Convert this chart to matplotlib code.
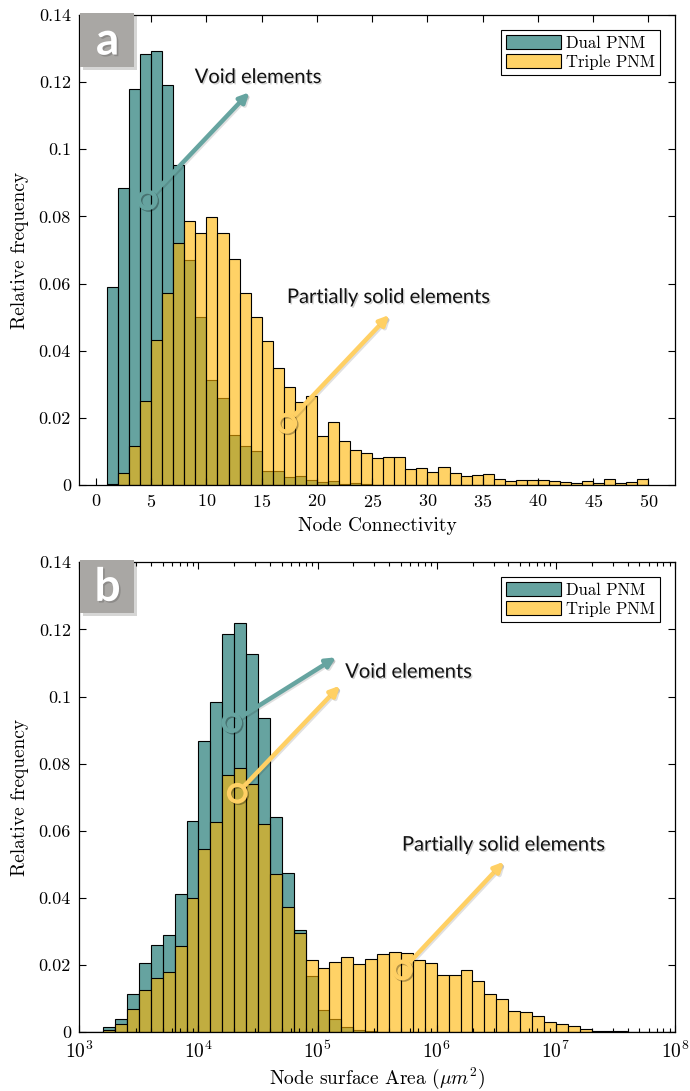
import numpy as np
import matplotlib
matplotlib.use("Agg")
import matplotlib.pyplot as plt
import matplotlib.patheffects as pe
from matplotlib.patches import FancyBboxPatch
from matplotlib.ticker import FuncFormatter, LogLocator, NullFormatter

# ---------------- data ----------------
# Panel a: node connectivity, bins [k, k+1) for k = 1..49
conn_edges = list(range(1, 51))
dual_conn = [0.059, 0.0884, 0.1179, 0.1283, 0.1294, 0.1191, 0.0952, 0.067, 0.050, 0.0312,
             0.0258, 0.0149, 0.0116, 0.0102, 0.0041, 0.0041, 0.0023, 0.0027, 0.0015, 0.0008,
             0.0012, 0.0002, 0.0005, 0.0002, 0.0001, 0, 0, 0, 0, 0,
             0, 0, 0, 0, 0, 0, 0, 0, 0, 0,
             0, 0, 0, 0, 0, 0, 0, 0, 0]
triple_conn = [0.0004, 0.0037, 0.0115, 0.025, 0.0432, 0.0572, 0.072, 0.0787, 0.0752, 0.0797,
               0.0752, 0.0672, 0.0572, 0.050, 0.043, 0.0348, 0.0292, 0.0248, 0.0266, 0.0146,
               0.0187, 0.0131, 0.0103, 0.0094, 0.0081, 0.0082, 0.0084, 0.0047, 0.005, 0.0039,
               0.0055, 0.0035, 0.0026, 0.003, 0.0032, 0.0017, 0.0012, 0.0014, 0.0014, 0.0016,
               0.0013, 0.001, 0.0005, 0.0011, 0.0005, 0.0018, 0.0005, 0.0008, 0.0017]

# Panel b: node surface area, 50 log bins of 0.1 decade from 1e3 to 1e8
area_log_edges = [3.0 + 0.1 * k for k in range(51)]
dual_area = [0, 0, 0.0015, 0.004, 0.0114, 0.0207, 0.0258, 0.029, 0.0412, 0.0629,
             0.0867, 0.0984, 0.1185, 0.1218, 0.1127, 0.0935, 0.0642, 0.0475, 0.0303, 0.0166,
             0.0067, 0.0038, 0.0016, 0.0005, 0.0002, 0, 0, 0, 0, 0,
             0, 0, 0, 0, 0, 0, 0, 0, 0, 0,
             0, 0, 0, 0, 0, 0, 0, 0, 0, 0]
triple_area = [0, 0, 0.0007, 0.0023, 0.007, 0.0126, 0.0161, 0.0179, 0.0256, 0.040,
               0.0544, 0.0627, 0.0767, 0.0788, 0.0739, 0.0621, 0.0471, 0.0374, 0.0294, 0.0216,
               0.0192, 0.021, 0.0223, 0.0204, 0.0218, 0.0231, 0.0237, 0.0234, 0.0216, 0.0206,
               0.0171, 0.0171, 0.0184, 0.0152, 0.0114, 0.0097, 0.0063, 0.006, 0.0047, 0.003,
               0.0025, 0.0018, 0.0009, 0.0004, 0.0003, 0.0002, 0.0001, 0, 0, 0]

series_names = ["Dual PNM", "Triple PNM"]
y_ticks = [0, 0.02, 0.04, 0.06, 0.08, 0.1, 0.12, 0.14]
conn_ticks = [0, 5, 10, 15, 20, 25, 30, 35, 40, 45, 50]

# ---------------- style ----------------
plt.rcParams['font.family'] = ['cmr10', 'DejaVu Serif']
plt.rcParams['mathtext.fontset'] = 'cm'
plt.rcParams['axes.formatter.use_mathtext'] = True
plt.rcParams['axes.unicode_minus'] = False

TEAL = (0 / 255, 102 / 255, 97 / 255, 0.6)
YELLOW = (255 / 255, 180 / 255, 0 / 255, 0.6)
TEAL_ARROW = '#66A4A0'
YEL_ARROW = '#FFD064'
ANN_FONT = ['Lato', 'DejaVu Sans']

fig = plt.figure(figsize=(6.9, 10.91), dpi=100)
ax_a = fig.add_axes([79.3 / 690, (1091 - 485) / 1091, 595.7 / 690, 470 / 1091])
ax_b = fig.add_axes([79.3 / 690, (1091 - 1032) / 1091, 595.7 / 690, 469.7 / 1091])


def style_axes(ax):
    ax.set_ylim(0, 0.14)
    ax.set_yticks(y_ticks)
    ax.yaxis.set_major_formatter(FuncFormatter(lambda v, p: '%g' % v))
    ax.tick_params(which='both', direction='in', top=True, right=True, labelsize=13,
                   width=0.8)
    ax.tick_params(which='major', length=5, pad=6)
    ax.tick_params(which='minor', length=3)
    for s in ax.spines.values():
        s.set_linewidth(0.9)
    ax.set_ylabel('Relative frequency', fontsize=14, labelpad=7)
    leg = ax.legend(loc='upper right', bbox_to_anchor=(0.975, 0.968), borderaxespad=0,
                    fancybox=False, edgecolor='black', fontsize=12, handlelength=3.3,
                    handleheight=0.9, handletextpad=0.3, borderpad=0.3, labelspacing=0.2,
                    framealpha=1)
    leg.get_frame().set_linewidth(0.8)


def label_box(ax, letter, fy0, fy1):
    box = FancyBboxPatch((0.0015, fy0), 0.09, fy1 - fy0, boxstyle='square,pad=0',
                         transform=ax.transAxes, facecolor='#A9A7A4', edgecolor='none',
                         clip_on=False, zorder=10,
                         path_effects=[pe.SimplePatchShadow(offset=(2, -2), alpha=0.2),
                                       pe.Normal()])
    ax.add_patch(box)
    ax.text(0.0475, (fy0 + fy1) / 2 - 0.003, letter, transform=ax.transAxes, ha='center',
            va='center', fontsize=33, fontweight='bold', color='white', family=ANN_FONT,
            zorder=11,
            path_effects=[pe.withSimplePatchShadow(offset=(1.2, -1.2), alpha=0.3)])


def arrow(ax, start, tip, color):
    ax.annotate('', xy=tip, xytext=start, xycoords='axes fraction',
                textcoords='axes fraction',
                arrowprops=dict(arrowstyle='-|>', color=color, lw=3.2, mutation_scale=14,
                                shrinkA=6, shrinkB=0,
                                path_effects=[pe.SimpleLineShadow(offset=(1, -1), alpha=0.12),
                                              pe.Normal()]),
                zorder=12)
    ax.plot([start[0]], [start[1]], marker='o', markersize=12, markerfacecolor='none',
            markeredgecolor=color, markeredgewidth=3, transform=ax.transAxes, zorder=12,
            clip_on=False,
            path_effects=[pe.SimpleLineShadow(offset=(1, -1), shadow_color='k', alpha=0.3),
                          pe.Normal()])


def ann_text(ax, xy, s):
    ax.text(xy[0], xy[1], s, transform=ax.transAxes, ha='center', va='center', fontsize=14.5,
            family=ANN_FONT, color='#111111', zorder=12,
            path_effects=[pe.withSimplePatchShadow(offset=(1, -1), alpha=0.18)])


# ---------------- panel a ----------------
conn_left = np.array(conn_edges[:-1])
ax_a.bar(conn_left, dual_conn, width=1, align='edge', color=TEAL, edgecolor='black',
         linewidth=0.8, label=series_names[0])
ax_a.bar(conn_left, triple_conn, width=1, align='edge', color=YELLOW, edgecolor='black',
         linewidth=0.8, label=series_names[1])
ax_a.set_xlim(-1.5, 52.4)
ax_a.set_xticks(conn_ticks)
ax_a.set_xlabel('Node Connectivity', fontsize=14, labelpad=5)
style_axes(ax_a)
label_box(ax_a, 'a', 0.889, 1.004)
arrow(ax_a, (0.1142, 0.6064), (0.2854, 0.8355), TEAL_ARROW)
arrow(ax_a, (0.3482, 0.1313), (0.5204, 0.3617), YEL_ARROW)
ann_text(ax_a, (0.30, 0.867), 'Void elements')
ann_text(ax_a, (0.519, 0.399), 'Partially solid elements')

# ---------------- panel b ----------------
edges_b = 10.0 ** np.array(area_log_edges)
widths_b = np.diff(edges_b)
ax_b.bar(edges_b[:-1], dual_area, width=widths_b, align='edge', color=TEAL,
         edgecolor='black', linewidth=0.8, label=series_names[0])
ax_b.bar(edges_b[:-1], triple_area, width=widths_b, align='edge', color=YELLOW,
         edgecolor='black', linewidth=0.8, label=series_names[1])
ax_b.set_xscale('log')
ax_b.set_xlim(1e3, 1e8)
ax_b.xaxis.set_major_locator(LogLocator(base=10, numticks=10))
ax_b.xaxis.set_minor_locator(LogLocator(base=10, subs=np.arange(2, 10), numticks=50))
ax_b.xaxis.set_minor_formatter(NullFormatter())
ax_b.set_xlabel(r'Node surface Area ($\mu m^2$)', fontsize=14, labelpad=3)
style_axes(ax_b)
ax_b.tick_params(axis='x', which='major', labelsize=14)
label_box(ax_b, 'b', 0.892, 1.005)
arrow(ax_b, (0.2558, 0.6585), (0.4309, 0.7977), TEAL_ARROW)
arrow(ax_b, (0.2652, 0.5082), (0.4376, 0.7373), YEL_ARROW)
arrow(ax_b, (0.5422, 0.132), (0.7129, 0.3626), YEL_ARROW)
ann_text(ax_b, (0.5526, 0.766), 'Void elements')
ann_text(ax_b, (0.7121, 0.398), 'Partially solid elements')

fig.savefig('out.png', dpi=100)
